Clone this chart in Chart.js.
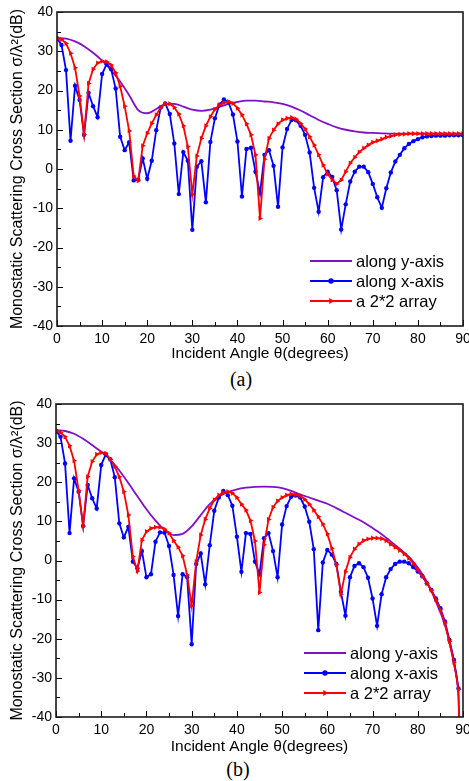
<!DOCTYPE html>
<html>
<head>
<meta charset="utf-8">
<script src="https://cdn.jsdelivr.net/npm/chart.js@4.4.1/dist/chart.umd.min.js"></script>
<style>
  body { margin: 0; background: #fff; width: 469px; height: 781px; position: relative; overflow: hidden; }
  canvas { position: absolute; left: 0; }
  #chartA { top: 0; }
  #chartB { top: 390px; }
  .tag { position: absolute; font-family: "Liberation Serif", serif; font-size: 20px; line-height: 24px; width: 40px; text-align: center; color: #000; }
</style>
</head>
<body>
<canvas id="chartA" width="469" height="365"></canvas>
<div class="tag" style="left:221px; top:367px;">(a)</div>
<canvas id="chartB" width="469" height="366"></canvas>
<div class="tag" style="left:218px; top:757px;">(b)</div>
<script>
// incident angle samples (degrees) used by the marker series
const angles = [0,1,2,3,4,5,6,7,8,9,10,11,12,13,14,15,16,17,18,19,20,21,22,23,24,25,26,27,28,29,
  30,31,32,33,34,35,36,37,38,39,40,41,42,43,44,45,46,47,48,49,50,51,52,53,54,55,56,57,58,59,
  60,61,62,63,64,65,66,67,68,69,70,71,72,73,74,75,76,77,78,79,80,81,82,83,84,85,86,87,88,89,90];
// the smooth "along y-axis" curves are read every 2 degrees
const smoothAngles = [0,2,4,6,8,10,12,14,16,18,20,22,24,26,28,30,32,34,36,38,40,42,44,46,48,
  50,52,54,56,58,60,62,64,66,68,70,72,74,76,78,80,82,84,86,88,90];
const smoothAnglesB = [0,2,4,6,8,10,12,14,16,18,20,22,24,26,28,30,32,34,36,38,40,42,44,46,48,
  50,52,54,56,58,60,62,64,66,68,70,72,74,76,78,80,82,84,86,87,88,89,90];

const seriesNames = ['along y-axis', 'along x-axis', 'a 2*2 array'];

// (a) RCS in dB
const yAxisA = [33.4,33.2,32.5,31.3,29.6,27.6,25.2,22.3,18.8,15.0,14.2,15.3,16.5,16.6,15.9,15.1,14.8,15.1,15.8,16.6,
  17.1,17.4,17.4,17.2,17.0,16.6,15.9,14.9,13.7,12.5,11.5,10.6,10.0,9.6,9.3,9.2,9.1,9.0,9.0,9.0,9.0,9.0,9.0,9.0,9.0,9.0];
const xAxisA = [33.3,31.6,25.2,7.2,21.2,17.6,8.7,19.4,16.0,13.2,24.2,26.7,25.4,20.5,8.2,4.8,6.8,-2.9,-2.7,2.7,
  -2.5,2.1,9.9,15.7,16.7,14.0,6.5,-6.4,4.3,2.1,-15.5,0.6,2.0,-8.5,6.9,12.9,16.4,17.7,17.0,13.9,
  7.0,-7.0,5.1,5.4,-0.7,-6.2,3.6,4.8,0.8,-9.6,5.5,10.2,12.5,12.4,11.0,8.7,4.2,-4.8,-10.9,-2.1,
  -0.7,-2.0,-5.4,-15.4,-9.0,-3.2,-0.7,0.6,0.6,-0.8,-3.8,-7.2,-9.9,-4.9,-0.9,1.9,3.6,5.3,6.4,7.1,
  7.6,8.1,8.3,8.4,8.5,8.5,8.5,8.6,8.6,8.6,8.6];
const arrayA = [33.3,33.0,32.0,29.5,25.8,18.6,8.8,21.8,25.4,27.0,27.5,27.3,26.5,24.5,21.1,16.0,9.7,-1.8,-3.0,5.9,
  9.1,11.6,13.8,15.7,16.6,16.6,15.7,14.0,11.0,5.7,-6.5,3.3,7.8,11.0,13.3,15.2,16.3,16.9,17.2,16.7,
  15.5,13.8,11.5,8.7,3.6,-12.6,2.5,7.8,9.9,11.5,12.5,12.9,13.1,12.7,11.6,10.2,8.2,6.1,3.6,1.0,
  -1.3,-2.8,-3.8,-2.8,-0.7,1.5,3.0,4.3,5.3,6.1,6.8,7.2,7.6,8.1,8.4,8.7,8.8,8.9,9.0,9.0,
  9.0,9.0,9.0,9.0,9.0,9.0,9.0,9.0,9.0,9.0,9.0];

// (b) RCS in dB
const yAxisB = [33.3,33.1,32.4,31.1,29.5,27.8,25.8,23.0,19.8,16.4,13.1,10.2,7.8,6.5,6.8,8.7,11.6,14.4,16.3,17.5,
  18.2,18.6,18.8,18.9,18.8,18.5,17.8,16.9,16.1,15.3,14.5,13.4,12.2,11.0,9.8,8.3,6.7,4.9,3.0,1.0,
  -1.8,-5.4,-10.5,-16.5,-21.0,-26.5,-35.0,-70.0];
const xAxisB = [33.2,31.6,24.8,7.0,21.0,17.6,8.8,19.3,15.9,13.3,24.4,27.1,25.9,21.3,9.5,5.9,8.6,-0.3,-2.0,2.4,
  -4.3,-3.5,4.8,7.2,7.1,3.7,-3.7,-14.2,-3.5,-4.3,-21.4,-0.9,1.8,-6.1,3.9,12.7,16.1,17.8,16.7,14.0,
  6.1,-2.9,7.0,6.8,-0.3,-3.5,5.7,7.0,2.4,-4.3,9.2,13.9,16.3,16.6,16.1,13.8,9.9,2.9,-17.8,-0.5,
  2.7,1.5,-0.9,-8.0,-14.1,-4.3,-1.4,-0.7,-1.7,-4.4,-9.7,-16.7,-8.6,-4.3,-2.2,-0.9,-0.3,-0.3,-0.7,-1.7,
  -2.8,-4.0,-5.8,-7.5,-9.7,-12.2,-15.6,-20.3,-25.4,-32.7];
const arrayB = [33.2,32.7,31.6,29.3,25.5,17.9,8.8,21.4,25.3,27.1,27.6,27.4,25.9,24.0,21.4,17.6,11.6,1.0,-2.7,5.2,
  7.4,8.2,8.5,8.5,8.0,7.0,5.1,3.4,1.2,-3.7,-11.6,-0.3,6.5,10.5,13.3,15.5,16.7,17.3,17.6,17.2,
  16.1,14.4,12.9,10.2,5.0,-8.2,4.0,10.5,13.6,15.2,16.1,16.7,17.0,16.8,16.5,15.6,14.4,12.9,11.2,9.3,
  6.8,3.1,-1.1,-8.6,-2.9,0.8,2.9,4.2,5.1,5.5,5.7,5.7,5.6,5.1,4.2,3.4,2.6,1.7,0.6,-0.7,
  -2.3,-4.0,-5.8,-7.6,-10.0,-12.6,-16.0,-20.7,-26.0,-33.0,-100.0];

const colors = ['#8010c8', '#0000ff', '#ff0000'];
const FONT = '"Liberation Sans", Arial, sans-serif';

function pairs(xs, ys) {
  return ys.map((v, i) => ({ x: xs[i], y: v }));
}

function drawMarker(ctx, style, cx, cy, r, color) {
  ctx.fillStyle = color;
  ctx.beginPath();
  if (style === 'circle') {
    ctx.arc(cx, cy, r, 0, Math.PI * 2);
  } else {
    ctx.moveTo(cx + r, cy);
    ctx.lineTo(cx - r * 0.5, cy - r * 0.87);
    ctx.lineTo(cx - r * 0.5, cy + r * 0.87);
    ctx.closePath();
  }
  ctx.fill();
}

// frame, inward ticks and the in-plot legend
const framePlugin = {
  id: 'frame',
  afterDatasetsDraw(chart, args, opts) {
    const { ctx, chartArea: a } = chart;
    const xs = chart.scales.x, ys = chart.scales.y;
    ctx.save();
    ctx.strokeStyle = '#000';
    ctx.lineWidth = 1;
    ctx.beginPath();
    for (let v = 0; v <= 90; v += 5) {
      const px = Math.round(xs.getPixelForValue(v)) + 0.5;
      ctx.moveTo(px, a.bottom);
      ctx.lineTo(px, a.bottom - (v % 10 === 0 ? 6 : 4));
    }
    for (let v = -40; v <= 40; v += 5) {
      const py = Math.round(ys.getPixelForValue(v)) + 0.5;
      ctx.moveTo(a.left, py);
      ctx.lineTo(a.left + (v % 10 === 0 ? 6 : 4), py);
    }
    ctx.stroke();
    ctx.lineWidth = 1.6;
    ctx.strokeStyle = '#1a1a1a';
    ctx.strokeRect(a.left, a.top, a.right - a.left, a.bottom - a.top);

    // legend
    ctx.font = '16.5px ' + FONT;
    ctx.textBaseline = 'middle';
    ctx.textAlign = 'left';
    chart.data.datasets.forEach((ds, i) => {
      const y0 = a.bottom - opts.rowBottom + i * 20;
      const x0 = a.right - opts.lineRight;
      const x1 = x0 + 42;
      ctx.strokeStyle = ds.borderColor;
      ctx.lineWidth = 2;
      ctx.beginPath();
      ctx.moveTo(x0, y0);
      ctx.lineTo(x1, y0);
      ctx.stroke();
      if (ds.pointRadius > 0) drawMarker(ctx, ds.pointStyle, (x0 + x1) / 2, y0, ds.pointRadius + 0.5, ds.borderColor);
      ctx.fillStyle = '#000';
      ctx.fillText(ds.label, x1 + 4, y0 + 1);
    });
    ctx.restore();
  }
};

function makeChart(id, smoothX, smoothY, xSeries, arraySeries, geo) {
  return new Chart(document.getElementById(id), {
    type: 'line',
    data: {
      datasets: [
        { label: seriesNames[0], data: pairs(smoothX, smoothY), borderColor: colors[0], borderWidth: 1.8,
          pointRadius: 0, cubicInterpolationMode: 'monotone', order: 3 },
        { label: seriesNames[1], data: pairs(angles, xSeries), borderColor: colors[1], backgroundColor: colors[1],
          borderWidth: 1.8, pointStyle: 'circle', pointRadius: 2.2, pointBorderWidth: 0, tension: 0, order: 2 },
        { label: seriesNames[2], data: pairs(angles, arraySeries), borderColor: colors[2], backgroundColor: colors[2],
          borderWidth: 1.8, pointStyle: 'triangle', pointRotation: 90, pointRadius: 3, pointBorderWidth: 0, tension: 0, order: 1 }
      ]
    },
    options: {
      responsive: false,
      animation: false,
      events: [],
      layout: { padding: { top: geo.top, right: 6, left: 0, bottom: 0 } },
      plugins: {
        legend: { display: false },
        tooltip: { enabled: false },
        frame: { rowBottom: geo.rowBottom, lineRight: geo.lineRight }
      },
      scales: {
        x: {
          type: 'linear', min: 0, max: 90,
          grid: { display: false, drawTicks: false },
          border: { display: false },
          ticks: { stepSize: 10, color: '#000', padding: 5, font: { family: FONT, size: 14 }, maxRotation: 0 },
          title: { display: true, text: 'Incident Angle θ(degrees)', color: '#000',
            font: { family: FONT, size: 15.5 }, padding: { top: 0, bottom: geo.titleBottom } },
          afterFit(s) { s.height = geo.xHeight; s.paddingLeft = 0; s.paddingRight = 0; }
        },
        y: {
          min: -40, max: 40,
          grid: { display: false, drawTicks: false },
          border: { display: false },
          ticks: { stepSize: 10, color: '#000', padding: 4, font: { family: FONT, size: 14 } },
          title: { display: true, text: 'Monostatic Scattering Cross Section σ/λ²(dB)', color: '#000',
            font: { family: FONT, size: 16 }, padding: { top: 8, bottom: 0 } },
          afterFit(s) { s.width = geo.left; s.paddingTop = 0; s.paddingBottom = 0; }
        }
      }
    },
    plugins: [framePlugin]
  });
}

makeChart('chartA', smoothAngles, yAxisA, xAxisA, arrayA,
  { top: 12, left: 57, xHeight: 39, titleBottom: 2, rowBottom: 65, lineRight: 153 });
makeChart('chartB', smoothAnglesB, yAxisB, xAxisB, arrayB,
  { top: 14, left: 56, xHeight: 39, titleBottom: 0, rowBottom: 64, lineRight: 159 });
</script>
</body>
</html>
